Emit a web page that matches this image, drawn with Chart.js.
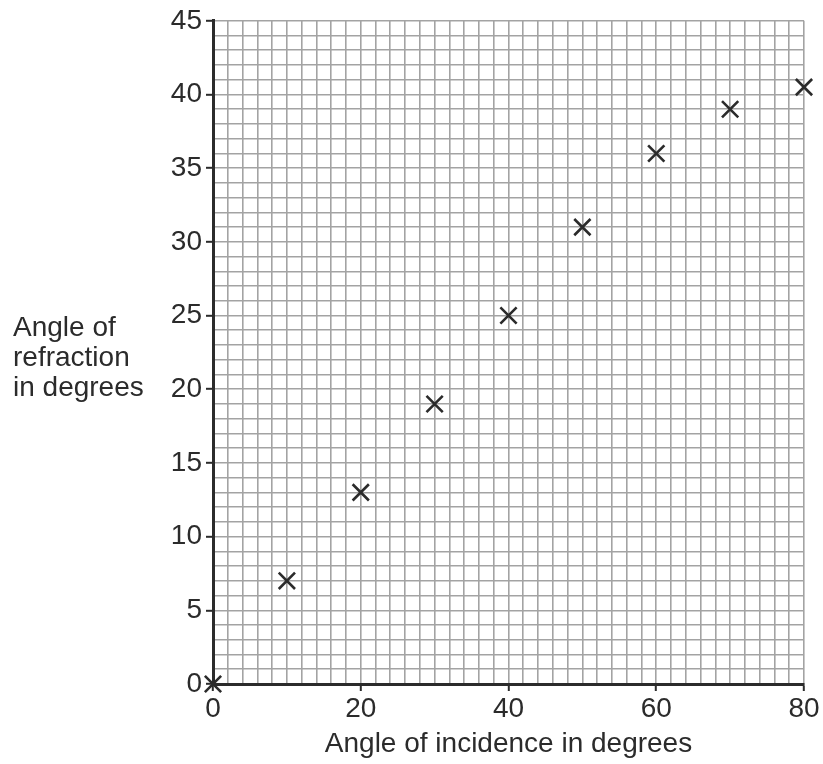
<!DOCTYPE html>
<html>
<head>
<meta charset="utf-8">
<script src="https://cdn.jsdelivr.net/npm/chart.js@4/dist/chart.umd.min.js"></script>
<style>
  html, body { margin: 0; padding: 0; background: #fff; }
  #wrap { width: 823px; height: 764px; }
</style>
</head>
<body>
<div id="wrap"><canvas id="c" width="823" height="764"></canvas></div>
<script>
// readings
const incidence = [0, 10, 20, 30, 40, 50, 60, 70, 80]
const refraction = [0, 7, 13, 19, 25, 31, 36, 39, 40.5]
const xTitle = 'Angle of incidence in degrees'
const yTitle = ['Angle of', 'refraction', 'in degrees']

const points = incidence.map((x, i) => ({ x: x, y: refraction[i] }))
const fontFamily = '"Liberation Sans", Arial, sans-serif'
const font = { family: fontFamily, size: 28 }
const ink = '#2b2b2b'

// side label for the y axis, written flat like the original
const yTitlePlugin = {
    id: 'yTitle',
    afterDraw(chart) {
        const ctx = chart.ctx
        ctx.save()
        ctx.font = '28px ' + fontFamily
        ctx.fillStyle = ink
        ctx.textAlign = 'left'
        ctx.textBaseline = 'middle'
        yTitle.forEach((line, i) => ctx.fillText(line, 13, 328 + i * 30))
        ctx.restore()
    }
}

new Chart(document.getElementById('c'), {
    type: 'scatter',
    data: {
        datasets: [{
            data: points,
            pointStyle: 'crossRot',
            pointRadius: 11.5,
            pointHoverRadius: 11.5,
            borderColor: ink,
            borderWidth: 2.6,
            clip: false
        }]
    },
    options: {
        responsive: false,
        animation: false,
        events: [],
        layout: { padding: { top: 16, right: 19, left: 0, bottom: 0 } },
        plugins: { legend: { display: false }, tooltip: { enabled: false } },
        scales: {
            x: {
                type: 'linear', min: 0, max: 80,
                afterFit: s => { s.height = 80 },
                ticks: {
                    stepSize: 2, autoSkip: false, maxRotation: 0, color: ink, font: font, padding: 1,
                    callback: v => (v % 20 === 0 ? String(v) : '')
                },
                grid: {
                    color: '#a3a3a3', lineWidth: 1.6, tickLength: 7,
                    tickColor: c => (c.tick && c.tick.value % 20 === 0 ? ink : 'rgba(0,0,0,0)'),
                    tickWidth: 2
                },
                border: { color: ink, width: 3 },
                title: { display: true, text: xTitle, color: ink, font: font, padding: { top: 4, bottom: 3 } }
            },
            y: {
                type: 'linear', min: 0, max: 45,
                afterFit: s => { s.width = 213 },
                ticks: {
                    stepSize: 1, autoSkip: false, color: ink, font: font, padding: 4,
                    callback: v => (v % 5 === 0 ? String(v) : '')
                },
                grid: {
                    color: '#a3a3a3', lineWidth: 1.6, tickLength: 7,
                    tickColor: c => (c.tick && c.tick.value % 5 === 0 ? ink : 'rgba(0,0,0,0)'),
                    tickWidth: 2
                },
                border: { color: ink, width: 3 }
            }
        }
    },
    plugins: [yTitlePlugin]
})
</script>
</body>
</html>
